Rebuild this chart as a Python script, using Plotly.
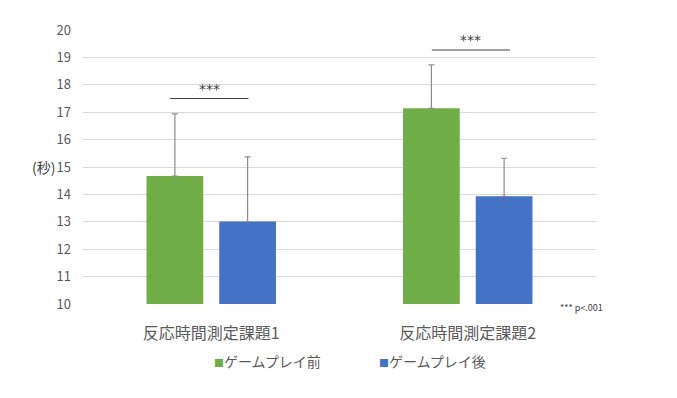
import plotly.graph_objects as go

categories = ["反応時間測定課題1", "反応時間測定課題2"]
series_names = ["ゲームプレイ前", "ゲームプレイ後"]
before_vals = [14.67, 17.14]
before_err = [2.27, 1.59]
after_vals = [13.01, 13.93]
after_err = [2.36, 1.39]
y_ticks = list(range(10, 21))
sig_label = "***"
note_text = "*** p<.001"
y_label = "(秒)"

colors = ["#70AD47", "#4472C4"]
font_family = "Noto Sans CJK JP, Noto Sans, sans-serif"

fig = go.Figure()
for name, vals, errs, col in [
    (series_names[0], before_vals, before_err, colors[0]),
    (series_names[1], after_vals, after_err, colors[1]),
]:
    fig.add_trace(go.Bar(
        x=categories, y=[v - 10 for v in vals], base=10, name=name,
        marker=dict(color=col, line=dict(width=0)),
        error_y=dict(type="data", symmetric=False, array=errs,
                     arrayminus=[0] * len(errs), color="#8c8c8c",
                     thickness=1.2, width=3),
        hoverinfo="skip", showlegend=False,
    ))

# significance lines
sig_pairs = [(-0.16, 0.145, 17.5), (0.86, 1.165, 19.27)]
for x0, x1, yv in sig_pairs:
    fig.add_shape(type="line", xref="x", yref="y", x0=x0, x1=x1, y0=yv, y1=yv,
                  line=dict(color="#404040", width=1))
    fig.add_annotation(x=(x0 + x1) / 2, y=yv, xref="x", yref="y", text=sig_label,
                       showarrow=False, yanchor="bottom", yshift=0,
                       font=dict(size=14, color="#404040", family="DejaVu Sans"))

fig.add_annotation(x=0.926, y=-0.011, xref="paper", yref="paper", text=note_text,
                   showarrow=False, xanchor="left", yanchor="middle",
                   font=dict(size=9, color="#404040", family=font_family))
fig.add_annotation(x=-0.05, y=15, xref="paper", yref="y", text=y_label,
                   showarrow=False, xanchor="right", yanchor="middle",
                   font=dict(size=14, color="#404040", family=font_family))

# legend drawn as text entries
legend_x = [0.252, 0.574]
for name, col, lx in zip(series_names, colors, legend_x):
    fig.add_annotation(
        x=lx, y=-0.208, xref="paper", yref="paper", xanchor="left", yanchor="middle",
        showarrow=False,
        text=f"<span style='color:{col};font-size:10px'>■</span>{name}",
        font=dict(size=14, color="#595959", family=font_family))

fig.update_layout(
    width=669, height=390,
    margin=dict(l=75, r=81, t=17, b=94),
    paper_bgcolor="white", plot_bgcolor="white",
    barmode="group", bargap=0.433, bargroupgap=0.22,
    font=dict(family=font_family, color="#595959"),
    showlegend=False,
    xaxis=dict(showgrid=False, showline=False, zeroline=False,
               tickfont=dict(size=16, color="#595959"), ticks="",
               ticklabelstandoff=18),
    yaxis=dict(range=[10, 20], tickvals=y_ticks, showgrid=True,
               gridcolor="#d9d9d9", gridwidth=1, zeroline=False, showline=False,
               tickfont=dict(size=13, color="#595959"), ticks="",
               ticklabelstandoff=11),
)

fig.write_html("out.html")
